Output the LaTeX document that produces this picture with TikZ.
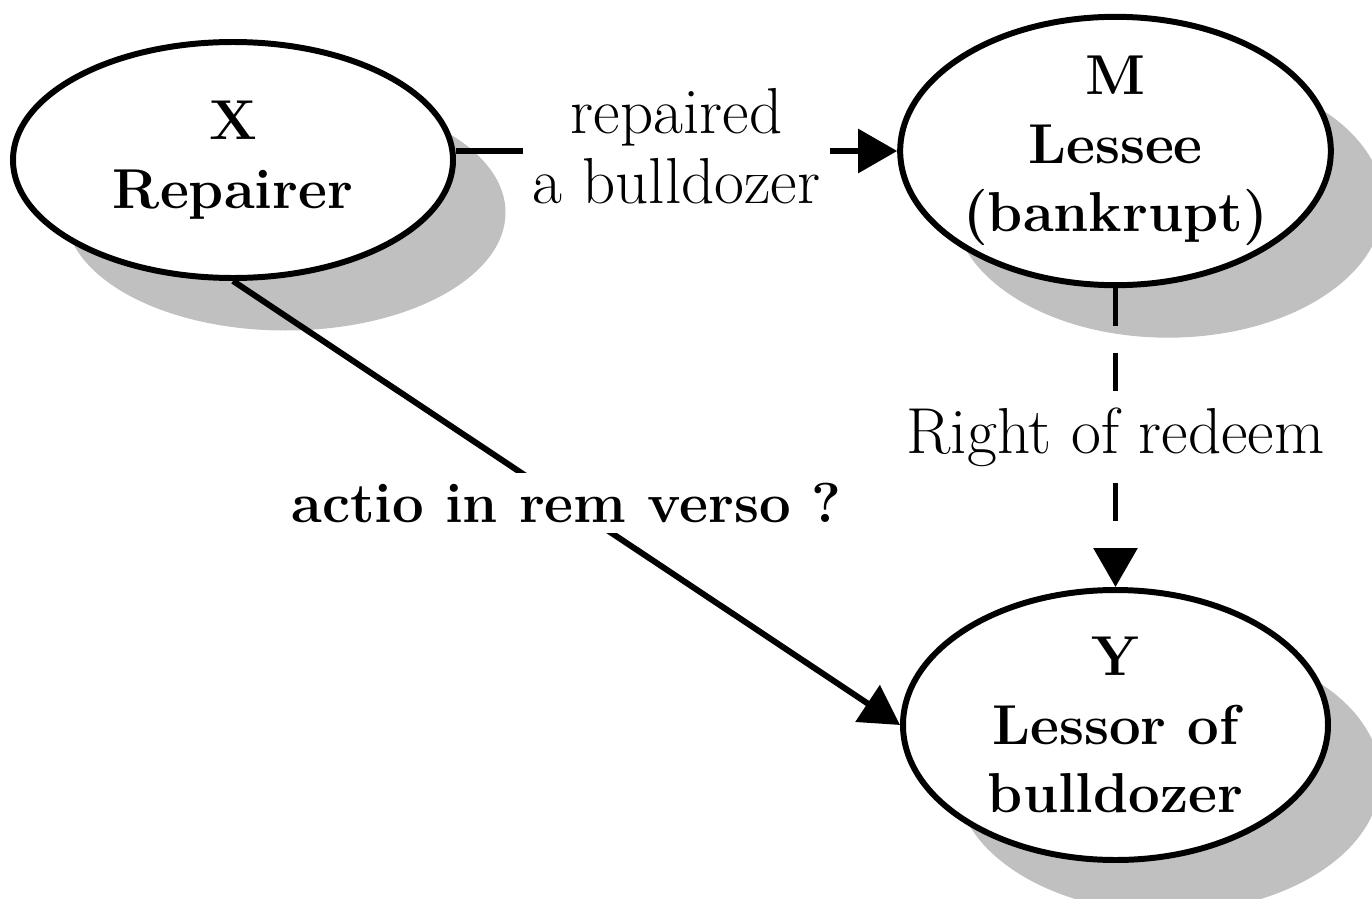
\documentclass[tikz,border=0pt]{standalone}
\usepackage{tikz}
\usepackage{xcolor}
\usetikzlibrary{
  positioning, arrows.meta, shapes.geometric, shadows,
}
\definecolor{cShade}{HTML}{C0C0C0}
\tikzset{
  party/.style={ellipse, draw=black, fill=white, line width=3.4pt, inner sep=0pt,
                align=center, font=\fontsize{32}{39}\selectfont\bfseries,
                drop shadow={shadow xshift=1.05cm, shadow yshift=-1.05cm,
                             fill=cShade, opacity=1}},
  link/.style={line width=3.4pt, -{Triangle[length=0.78cm, width=0.86cm]}},
  linklabel/.style={fill=white, inner sep=0.2cm, align=center,
                    font=\fontsize{37}{40}\selectfont},
}

\begin{document}
\begin{tikzpicture}
  \useasboundingbox (0,0) rectangle (27.44,-17.98);

  % parties
  \node[party, minimum width=8.8cm, minimum height=4.72cm]
       (repairer) at (4.66,-3.2) {X\\Repairer};
  \node[party, minimum width=8.5cm, minimum height=5.24cm]
       (lessee) at (22.31,-3.02) {M\\Lessee\\(bankrupt)};
  \node[party, minimum width=8.5cm, minimum height=5.4cm]
       (lessor) at (22.31,-14.5) {Y\\Lessor of\\bulldozer};

  % relations
  \draw[link] (repairer.east |- lessee.west) -- node[linklabel, yshift=0.1cm] {repaired\\a bulldozer}
        (lessee.west);
  \draw[link, dash pattern=on 0.75cm off 0.55cm] (lessee.south) --
        node[linklabel] {Right of redeem} (lessor.north);
  \draw[link] (repairer.south) -- node[linklabel, font=\fontsize{32}{35}\selectfont\bfseries]
        {actio in rem verso ?} (lessor.west);
\end{tikzpicture}
\end{document}
